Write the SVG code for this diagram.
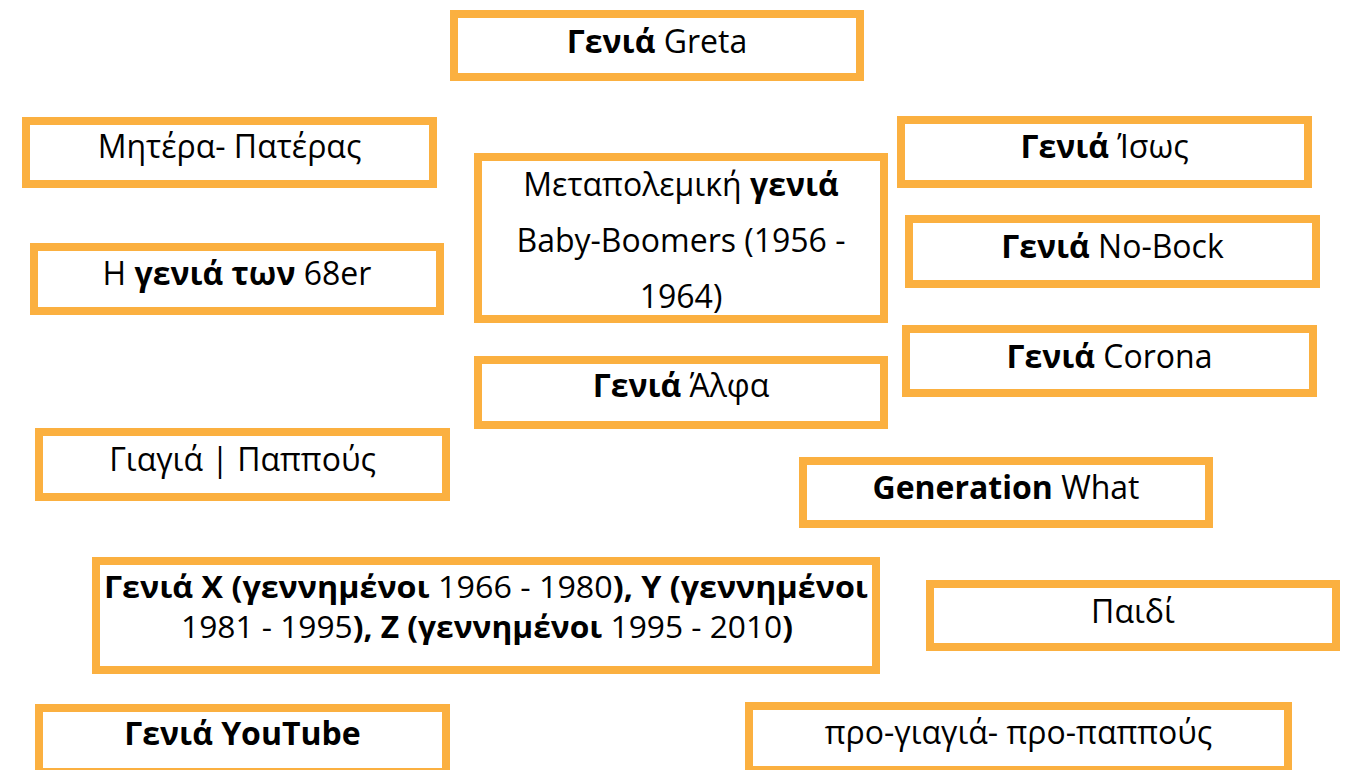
<svg xmlns="http://www.w3.org/2000/svg" width="1348" height="770" viewBox="0 0 1348 770">
<style>
  .box { fill: #ffffff; stroke: #FBB040; stroke-width: 8; }
  .t { font-family: "Open Sans", "Noto Sans", "DejaVu Sans", sans-serif; font-size: 32px; fill: #000; text-anchor: middle; }
  .s { font-family: "Open Sans", "Noto Sans", "DejaVu Sans", sans-serif; font-size: 31px; fill: #000; }
  .b { font-weight: bold; }
</style>
<rect width="1348" height="770" fill="#ffffff"/>
<g id="connectors"></g>
<g id="n-greta"><rect class="box" x="454" y="14" width="406" height="63"/><text class="t" x="657" y="53"><tspan class="b">Γενιά</tspan> Greta</text></g>
<g id="n-mitera"><rect class="box" x="26" y="121" width="407" height="63"/><text class="t" x="229.5" y="158">Μητέρα- Πατέρας</text></g>
<g id="n-68er"><rect class="box" x="34" y="247" width="406" height="64"/><text class="t" x="237" y="285">Η <tspan class="b">γενιά των</tspan> 68er</text></g>
<g id="n-metapolemiki"><rect class="box" x="478" y="157" width="406" height="162"/>
  <text class="t" x="681" y="196">Μεταπολεμική <tspan class="b">γενιά</tspan></text>
  <text class="t" x="681" y="252">Baby-Boomers (1956 -</text>
  <text class="t" x="681" y="308">1964)</text></g>
<g id="n-alfa"><rect class="box" x="478" y="360" width="406" height="65"/><text class="t" x="681" y="397"><tspan class="b">Γενιά</tspan> Άλφα</text></g>
<g id="n-isos"><rect class="box" x="901" y="120" width="407" height="64"/><text class="t" x="1104.5" y="158"><tspan class="b">Γενιά</tspan> Ίσως</text></g>
<g id="n-nobock"><rect class="box" x="909" y="219" width="407" height="65"/><text class="t" x="1112.5" y="258"><tspan class="b">Γενιά</tspan> No-Bock</text></g>
<g id="n-corona"><rect class="box" x="906" y="329" width="407" height="64"/><text class="t" x="1109.5" y="368"><tspan class="b">Γενιά</tspan> Corona</text></g>
<g id="n-giagia"><rect class="box" x="39" y="432" width="407" height="65"/><text class="t" x="242.5" y="471">Γιαγιά | Παππούς</text></g>
<g id="n-genwhat"><rect class="box" x="803" y="461" width="406" height="63"/><text class="t" x="1006" y="499"><tspan class="b">Generation</tspan> What</text></g>
<g id="n-xyz"><rect class="box" x="96" y="561" width="780" height="109"/>
  <text class="s" x="104" y="598" textLength="764" lengthAdjust="spacingAndGlyphs"><tspan class="b">Γενιά X (γεννημένοι</tspan> 1966 - 1980<tspan class="b">), Y (γεννημένοι</tspan></text>
  <text class="s" x="181" y="638" textLength="612" lengthAdjust="spacingAndGlyphs">1981 - 1995<tspan class="b">), Z (γεννημένοι</tspan> 1995 - 2010<tspan class="b">)</tspan></text></g>
<g id="n-paidi"><rect class="box" x="930" y="584" width="406" height="63"/><text class="t" x="1133" y="623">Παιδί</text></g>
<g id="n-youtube"><rect class="box" x="39" y="708" width="407" height="64"/><text class="t" x="242.5" y="745"><tspan class="b">Γενιά YouTube</tspan></text></g>
<g id="n-proppous"><rect class="box" x="749" y="706" width="539" height="64"/><text class="t" x="1018.5" y="744">προ-γιαγιά- προ-παππούς</text></g>
</svg>
